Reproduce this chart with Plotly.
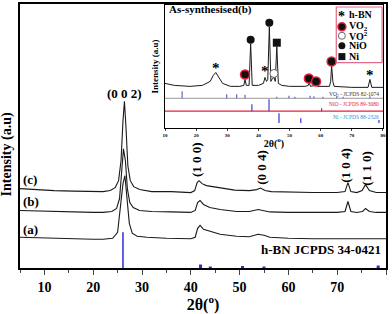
import plotly.graph_objects as go

# ---------------- main pattern data (2theta, intensity a.u. with offsets) -------------
two_theta_c = [5, 8, 12, 16, 20, 22, 23.5, 24.5, 25.2, 25.7, 26.1, 26.4, 26.7, 27.1, 27.6, 28.3, 29.5, 32, 36, 40,
               40.8, 41.3, 41.7, 42.3, 43.2, 44.5, 46.5, 49, 52, 53.5, 54.3, 55.2, 56.5, 60, 65, 70, 71.6, 72.2,
               72.8, 74, 75.1, 75.8, 76.6, 78, 80]
int_c = [80, 79, 78, 77.5, 77, 77, 78, 81, 88, 108, 148, 168, 143, 103, 88, 82, 79, 77, 77, 76,
         78, 86, 88, 85, 83, 82, 80, 78.5, 78, 79, 80.5, 78, 77, 76.5, 76, 76, 77, 86,
         77, 76, 78, 84, 78, 76, 76]

two_theta_b = [5, 8, 12, 16, 20, 22, 23.8, 24.8, 25.4, 25.8, 26.2, 26.6, 27.0, 27.5, 28.2, 29.5, 32, 36, 40,
               40.9, 41.4, 41.9, 42.6, 43.9, 46, 49.4, 52, 53.8, 55, 56.2, 60, 65, 70, 71.6, 72.2, 72.8, 74,
               75.2, 75.8, 76.6, 78, 80]
int_b = [58, 57.5, 57, 56.5, 56, 56, 57, 60, 70, 95, 120, 108, 80, 66, 61, 58, 57, 56.5, 56,
         58, 66, 68, 64, 61, 59, 57, 57, 59, 58, 56.5, 56, 56, 56, 57, 67, 57, 56,
         57, 60, 57, 56, 56]

two_theta_a = [5, 8, 12, 16, 20, 22, 24, 25.0, 25.6, 26.1, 26.5, 26.9, 27.4, 28.0, 29, 31, 35, 40,
               40.9, 41.4, 41.9, 42.6, 43.9, 46, 49.4, 52, 53.8, 55, 56.2, 60, 65, 70, 75, 80]
int_a = [31, 30.5, 30, 29.5, 29, 29, 30, 36, 60, 85, 93, 70, 45, 35, 32, 31, 30, 29.5,
         31, 40, 43, 39, 37, 34, 32, 31.5, 34, 33, 31, 30, 29.5, 29.5, 29.5, 29.5]

hbn_ref_pos = [26.1, 42.0, 44.0, 50.6, 55.0, 78.4]
hbn_ref_int = [36, 3.5, 1.5, 2, 1.5, 2.5]

main_labels = ["(c)", "(b)", "(a)"]
main_label_y = [89, 67, 39]

hkl_labels = ["(0 0 2)", "(1 0 0)", "(0 0 4)", "(1 0 4)", "(1 1 0)"]
hkl_x = [26.5, 41.3, 54.6, 71.8, 76.1]
hkl_y = [176, 109, 101, 104, 101]

main_ticks = [10, 20, 30, 40, 50, 60, 70, 80]

# ---------------- inset data (as-synthesised (b)) -------------
inset_tt = [10, 13, 18, 22, 24.5, 25.5, 26.3, 27.2, 28.5, 31, 34, 35.3, 35.7, 36.1, 37.0, 37.5, 38.0, 40,
            41.6, 42.1, 42.6, 43.0, 43.5, 44.0, 44.5, 45.0, 45.4, 45.9, 46.4, 47.5, 50, 55, 56.0, 56.3,
            56.7, 58.2, 58.6, 59.0, 62.8, 63.2, 63.5, 63.9, 64.3, 70, 75.2, 75.8, 76.4, 80]
inset_int = [45, 43, 42, 43, 47, 53, 56, 51, 45, 42, 42, 43, 49, 43, 43, 85, 43, 43,
             45, 51, 47, 49, 102, 47, 50, 51, 47, 82, 45, 43, 42, 42, 43, 46,
             42, 43, 45, 42, 42, 47, 63, 47, 42, 41, 41, 49, 41, 41]

vo2_ref_pos = [15.5, 29.8, 33.0, 35.7, 45.9, 49.8, 51.7, 56.6, 57.8, 60.7, 65.1, 67.2, 75.8]
vo2_ref_int = [7, 4, 4, 3.5, 1.5, 2.5, 1.5, 2.5, 2, 1.5, 2, 1.5, 2]
nio_ref_pos = [37.9, 43.4, 60.3]
nio_ref_int = [7, 12, 3]
ni_ref_pos = [46.6, 53.6, 78.7]
ni_ref_int = [10, 5, 3]
vo2_base, nio_base, ni_base = 30, 17, 5

star_x = [26.3, 42.1, 75.8]
star_y = [61, 57, 53]
vo2_mark_x = [35.7, 56.2, 58.5, 63.5]
vo2_mark_y = [54, 50, 47, 67]
vo2b_mark_x = [45.0]
vo2b_mark_y = [55]
nio_mark_x = [37.5, 43.5]
nio_mark_y = [89, 106]
ni_mark_x = [45.9]
ni_mark_y = [86]

inset_ticks = [10, 20, 30, 40, 50, 60, 70, 80]

FONT = "Liberation Serif"
BLUE = "#2b2bd6"
RED = "#e8203a"
LBLUE = "#2f8fe8"
PINK = "#e06a8a"


def sticks(pos, h, base=0):
    xs, ys = [], []
    for p, v in zip(pos, h):
        xs += [p, p, None]
        ys += [base, base + v, None]
    return xs, ys


fig = go.Figure()

# main curves
for xs, ys in [(two_theta_a, int_a), (two_theta_b, int_b), (two_theta_c, int_c)]:
    fig.add_trace(go.Scatter(x=xs, y=ys, mode="lines", line=dict(color="#1a1a1a", width=1.1),
                             showlegend=False, hoverinfo="skip"))
sx, sy = sticks(hbn_ref_pos[:1], hbn_ref_int[:1])
fig.add_trace(go.Scatter(x=sx, y=sy, mode="lines", line=dict(color=BLUE, width=1.5), showlegend=False))
sx, sy = sticks(hbn_ref_pos[1:], hbn_ref_int[1:])
fig.add_trace(go.Scatter(x=sx, y=sy, mode="lines", line=dict(color=BLUE, width=3), showlegend=False))

# inset curve
fig.add_trace(go.Scatter(x=inset_tt, y=inset_int, xaxis="x2", yaxis="y2", mode="lines",
                         line=dict(color="#1a1a1a", width=1), showlegend=False))
# inset reference rows
fig.add_trace(go.Scatter(x=[10, 80], y=[vo2_base, vo2_base], xaxis="x2", yaxis="y2", mode="lines",
                         line=dict(color="#999999", width=1), showlegend=False))
fig.add_trace(go.Scatter(x=[10, 80], y=[nio_base, nio_base], xaxis="x2", yaxis="y2", mode="lines",
                         line=dict(color=RED, width=1.2), showlegend=False))
for pos, h, base, col in [(vo2_ref_pos, vo2_ref_int, vo2_base, "#6666cc"),
                          (nio_ref_pos, nio_ref_int, nio_base, "#4444cc"),
                          (ni_ref_pos, ni_ref_int, ni_base, "#3333cc")]:
    sx, sy = sticks(pos, h, base)
    fig.add_trace(go.Scatter(x=sx, y=sy, xaxis="x2", yaxis="y2", mode="lines",
                             line=dict(color=col, width=1.2), showlegend=False))

# inset phase markers
fig.add_trace(go.Scatter(x=vo2_mark_x, y=vo2_mark_y, xaxis="x2", yaxis="y2", mode="markers",
                         marker=dict(size=9, color="#111111", line=dict(color=RED, width=1.5)), showlegend=False))
fig.add_trace(go.Scatter(x=vo2b_mark_x, y=vo2b_mark_y, xaxis="x2", yaxis="y2", mode="markers",
                         marker=dict(size=8, color="white", line=dict(color="#666666", width=1)), showlegend=False))
fig.add_trace(go.Scatter(x=nio_mark_x, y=nio_mark_y, xaxis="x2", yaxis="y2", mode="markers",
                         marker=dict(size=8, color="#111111"), showlegend=False))
fig.add_trace(go.Scatter(x=ni_mark_x, y=ni_mark_y, xaxis="x2", yaxis="y2", mode="markers",
                         marker=dict(size=8, symbol="square", color="#111111"), showlegend=False))

# inset legend
leg_y = [114, 102, 93, 83, 72]
leg_text = ["h-BN", "VO<sub>2</sub>", "VO<sup>2</sup>", "NiO", "Ni"]
fig.add_trace(go.Scatter(x=[66.8], y=[leg_y[1]], xaxis="x2", yaxis="y2", mode="markers",
                         marker=dict(size=8, color="#111111", line=dict(color=RED, width=1.5)), showlegend=False))
fig.add_trace(go.Scatter(x=[66.8], y=[leg_y[2]], xaxis="x2", yaxis="y2", mode="markers",
                         marker=dict(size=7, color="white", line=dict(color="#666666", width=1)), showlegend=False))
fig.add_trace(go.Scatter(x=[66.8], y=[leg_y[3]], xaxis="x2", yaxis="y2", mode="markers",
                         marker=dict(size=7, color="#111111"), showlegend=False))
fig.add_trace(go.Scatter(x=[66.8], y=[leg_y[4]], xaxis="x2", yaxis="y2", mode="markers",
                         marker=dict(size=7, symbol="square", color="#111111"), showlegend=False))

annotations = []
star_font = dict(family=FONT, size=15, color="#000000", weight="bold")
for x, y in zip(star_x, star_y):
    annotations.append(dict(x=x, y=y, xref="x2", yref="y2", text="*", showarrow=False,
                            xanchor="center", yanchor="middle", font=star_font))
annotations.append(dict(x=66.8, y=leg_y[0] - 2, xref="x2", yref="y2", text="*", showarrow=False,
                        xanchor="center", yanchor="middle", font=dict(family=FONT, size=14, color="#000000",
                                                                      weight="bold")))
for t, y in zip(leg_text, leg_y):
    annotations.append(dict(x=68.4, y=y, xref="x2", yref="y2", text=t, showarrow=False, xanchor="left",
                            yanchor="middle", font=dict(family=FONT, size=10, color="black", weight="bold")))
for t, y in zip(main_labels, main_label_y):
    annotations.append(dict(x=5.2, y=y, xref="x", yref="y", text=t, showarrow=False, xanchor="left",
                            yanchor="middle", font=dict(family=FONT, size=13, color="black", weight="bold")))
for i, (t, x, y) in enumerate(zip(hkl_labels, hkl_x, hkl_y)):
    annotations.append(dict(x=x, y=y, xref="x", yref="y", text=t, showarrow=False,
                            textangle=0 if i == 0 else -90,
                            font=dict(family=FONT, size=13, color="black", weight="bold")))
annotations.append(dict(x=79.4, y=19, xref="x", yref="y", text="h-BN JCPDS 34-0421", showarrow=False,
                        xanchor="right", font=dict(family=FONT, size=13, color="black", weight="bold")))
annotations.append(dict(x=-0.033, y=0.43, xref="paper", yref="paper", text="Intensity (a.u)", showarrow=False,
                        xanchor="center", yanchor="middle", textangle=-90,
                        font=dict(family=FONT, size=14, color="black", weight="bold")))
annotations.append(dict(x=10.6, y=119, xref="x2", yref="y2", text="As-synthesised(b)", showarrow=False,
                        xanchor="left", font=dict(family=FONT, size=11, color="black", weight="bold")))
annotations.append(dict(x=79.5, y=vo2_base + 4, xref="x2", yref="y2", text="VO<sub>2</sub> - JCPDS 82-1074",
                        showarrow=False, xanchor="right", font=dict(family=FONT, size=5.5, color="#333333")))
annotations.append(dict(x=79.5, y=nio_base + 7, xref="x2", yref="y2", text="NiO - JCPDS 89-3080",
                        showarrow=False, xanchor="right", font=dict(family=FONT, size=5.5, color=RED)))
annotations.append(dict(x=79.5, y=ni_base + 6, xref="x2", yref="y2", text="Ni - JCPDS 88-2326",
                        showarrow=False, xanchor="right", font=dict(family=FONT, size=5.5, color=LBLUE)))
annotations.append(dict(x=-0.046, y=0.5, xref="x2 domain", yref="y2 domain", text="Intensity (a.u)",
                        xanchor="center", yanchor="middle", showarrow=False, textangle=-90,
                        font=dict(family=FONT, size=9, color="black", weight="bold")))

shapes = [dict(type="rect", xref="x2", yref="y2", x0=65.0, x1=79.7, y0=66, y1=122,
               line=dict(color=PINK, width=1.2), fillcolor="rgba(0,0,0,0)")]

fig.update_layout(
    width=392, height=314,
    margin=dict(l=20, r=6, t=2, b=46),
    paper_bgcolor="white", plot_bgcolor="white",
    showlegend=False,
    xaxis=dict(range=[5, 80], tickvals=main_ticks, ticks="outside", ticklen=5, tickwidth=1.2,
               minor=dict(dtick=5, tick0=0, ticks="outside", ticklen=3, tickwidth=1),
               showline=True, linecolor="black", linewidth=1.5, mirror=True, showgrid=False, zeroline=False,
               tickfont=dict(family=FONT, size=14, color="black", weight="bold"),
               title=dict(text="2θ(<sup>o</sup>)", standoff=4,
                          font=dict(family=FONT, size=16, color="black", weight="bold"))),
    yaxis=dict(range=[0, 266], showticklabels=False, ticks="", showline=True, linecolor="black",
               linewidth=1.5, mirror=True, showgrid=False, zeroline=False),
    xaxis2=dict(domain=[0.3962, 0.9918], anchor="y2", range=[10, 80], tickvals=inset_ticks, ticks="outside",
                ticklen=2, showline=True, linecolor="black", linewidth=1, mirror=True, showgrid=False,
                zeroline=False, tickfont=dict(family=FONT, size=5, color="black", weight="bold"),
                title=dict(text="2θ(<sup>o</sup>)", standoff=2,
                           font=dict(family=FONT, size=10, color="black", weight="bold"))),
    yaxis2=dict(domain=[0.5301, 0.9962], anchor="x2", range=[0, 124], showticklabels=False, ticks="",
                showline=True, linecolor="black", linewidth=1, mirror=True, showgrid=False, zeroline=False),
    annotations=annotations,
    shapes=shapes,
)

fig.write_html("out.html", config={"displayModeBar": False},
               post_script="document.body.style.margin='0';document.body.style.overflow='hidden';")
